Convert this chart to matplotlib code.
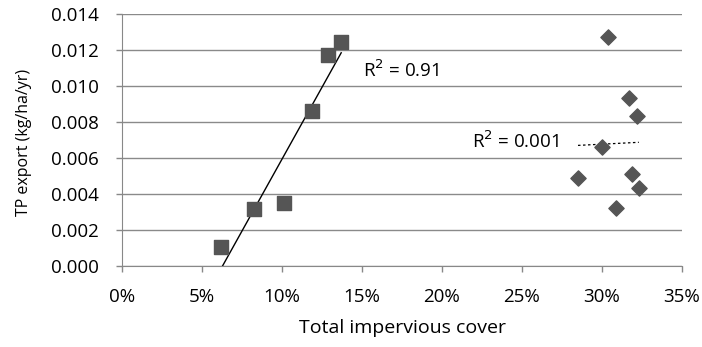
import numpy as np
import matplotlib.pyplot as plt
from matplotlib.ticker import FuncFormatter

plt.rcParams['font.family'] = ['Open Sans', 'DejaVu Sans']

# low impervious sites (squares)
sq_x = [6.2, 8.25, 10.1, 11.9, 12.9, 13.7]
sq_y = [0.00105, 0.00317, 0.0035, 0.0086, 0.0117, 0.0124]

# high impervious sites (diamonds)
dm_x = [30.4, 31.7, 32.2, 30.0, 28.5, 31.9, 32.3, 30.9]
dm_y = [0.0127, 0.0093, 0.0083, 0.0066, 0.0049, 0.0051, 0.0043, 0.0032]

x_ticks = [0, 5, 10, 15, 20, 25, 30, 35]
y_ticks = [0.000, 0.002, 0.004, 0.006, 0.008, 0.010, 0.012, 0.014]

fig = plt.figure(figsize=(7.02, 3.47), dpi=100)
ax = fig.add_axes([0.1738, 0.2334, 0.7977, 0.7276])

mcol = "#555555"
ax.scatter(sq_x, sq_y, marker="s", s=110, color=mcol, zorder=3)
ax.scatter(dm_x, dm_y, marker="D", s=60, color=mcol, zorder=3)

# linear trendlines
k, b = np.polyfit(sq_x, sq_y, 1)
xs = np.array([min(sq_x), max(sq_x)])
ax.plot(xs, k * xs + b, color="black", lw=1, zorder=2)

k2, b2 = np.polyfit(dm_x, dm_y, 1)
xd = np.array([min(dm_x), max(dm_x)])
ax.plot(xd, k2 * xd + b2, color="black", lw=0.9, ls=(0, (2, 2)), zorder=2)

ax.text(15.06, 0.0105, "R$^2$ = 0.91", fontsize=13.5)
ax.text(21.9, 0.00656, "R$^2$ = 0.001", fontsize=13.5)

ax.set_xlim(0, 35)
ax.set_ylim(0, 0.014)
ax.set_xticks(x_ticks)
ax.set_yticks(y_ticks)
ax.xaxis.set_major_formatter(FuncFormatter(lambda v, p: f"{v:.0f}%"))
ax.yaxis.set_major_formatter(FuncFormatter(lambda v, p: f"{v:.3f}"))
ax.tick_params(labelsize=13.5, color="#888888", length=4.5, width=1)
ax.tick_params(axis="x", pad=11)
ax.tick_params(axis="y", pad=12)

ax.grid(axis="y", color="#8a8a8a", lw=1)
ax.set_axisbelow(True)
for s in ["top", "right"]:
    ax.spines[s].set_visible(False)
for s in ["left", "bottom"]:
    ax.spines[s].set_color("#888888")

ax.set_xlabel("Total impervious cover", fontsize=14, labelpad=10)
ax.set_ylabel("TP export (kg/ha/yr)", fontsize=11.5)
ax.yaxis.set_label_coords(-90 / 560, 0.49)

fig.savefig("out.png", dpi=100)
